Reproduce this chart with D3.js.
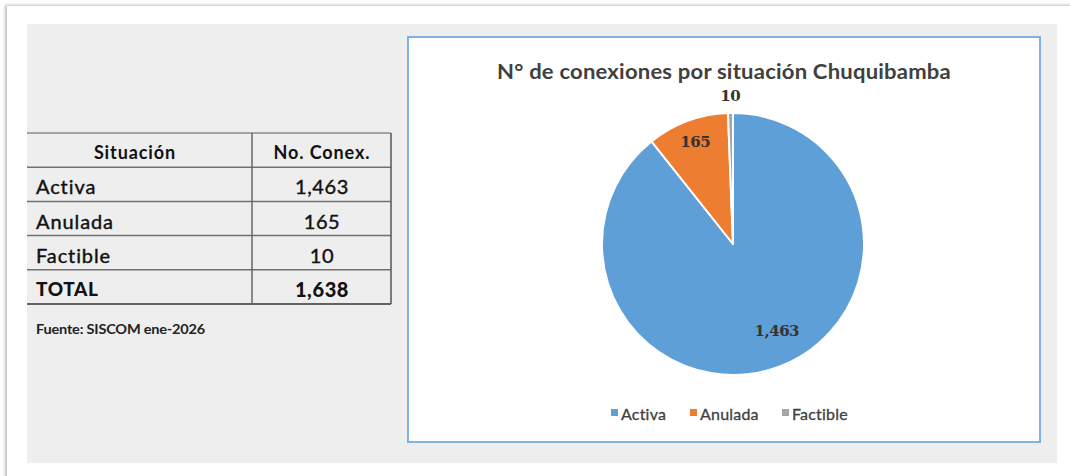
<!DOCTYPE html>
<html><head><meta charset="utf-8">
<script src="https://d3js.org/d3.v7.min.js"></script>
<style>html,body{margin:0;padding:0;background:#fff;}svg{display:block;}</style>
</head><body>
<svg id="c" width="1070" height="476"></svg>
<script>
const categories = ["Activa", "Anulada", "Factible"];
const values = [1463, 165, 10];
const valueLabels = ["1,463", "165", "10"];
const tableHeaders = ["Situación", "No. Conex."];
const totalLabel = "TOTAL";
const totalValue = "1,638";
const title = "N° de conexiones por situación Chuquibamba";
const source = "Fuente: SISCOM ene-2026";
const colors = ["#5e9fd8", "#ed7d31", "#a5a5a5"];

const FONT = "Lato, 'Open Sans', sans-serif";
const svg = d3.select("#c");
const defs = svg.append("defs");
const f = defs.append("filter").attr("id","sh").attr("x","-5%").attr("y","-5%").attr("width","110%").attr("height","110%");
f.append("feDropShadow").attr("dx",-2).attr("dy",-1).attr("stdDeviation",1.5).attr("flood-color","#000").attr("flood-opacity",0.25);

// outer frame
svg.append("rect").attr("x",7).attr("y",6).attr("width",1100).attr("height",520).attr("fill","#fff").attr("filter","url(#sh)");
// gray panel
svg.append("rect").attr("x",27).attr("y",24).attr("width",1030).attr("height",439).attr("fill","#eeeeee");

function txt(g, x, yy, s, size, opts={}) {
  const t = g.append("text").attr("x",x).attr("y",yy).attr("dominant-baseline","central")
    .attr("font-family",opts.family||FONT).attr("font-size",size).attr("fill",opts.fill||"#111")
    .attr("text-anchor",opts.anchor||"start").text(s);
  if (opts.weight) t.attr("font-weight",opts.weight);
  if (opts.ls!=null) t.attr("letter-spacing",opts.ls);
  if (opts.stroke) t.attr("stroke",opts.fill||"#111").attr("stroke-width",opts.stroke);
  return t;
}

// ---- table ----
const tx0 = 27, tx1 = 391, tcol = 252;
const rowTop = 133, rowH = 34.2;
const rows = categories.map((c,i)=>({label:c, value:valueLabels[i]}));
const tg = svg.append("g");
const y = d3.scaleLinear().domain([0,5]).range([rowTop, rowTop+5*rowH]);
d3.range(6).forEach(i=>{
  tg.append("line").attr("x1",tx0).attr("x2",tx1).attr("y1",y(i)).attr("y2",y(i))
    .attr("stroke", i===5 ? "#333" : (i===0 ? "#8a8a8a" : "#707070")).attr("stroke-width",1.5);
});
tg.append("line").attr("x1",tcol).attr("x2",tcol).attr("y1",y(0)).attr("y2",y(5)).attr("stroke","#666").attr("stroke-width",1.5);
tg.append("line").attr("x1",tx1).attr("x2",tx1).attr("y1",y(0)).attr("y2",y(5)).attr("stroke","#555").attr("stroke-width",1.5);
const colC1 = 135, colC2 = 322;
txt(tg, colC1, y(0.5)+2, tableHeaders[0], 18, {anchor:"middle", weight:"bold", ls:0.9});
txt(tg, colC2, y(0.5)+2, tableHeaders[1], 18, {anchor:"middle", weight:"bold", ls:0.9});
rows.forEach((r,i)=>{
  txt(tg, 36, y(i+1.5)+2, r.label, 20, {ls:0.9, stroke:0.4});
  txt(tg, colC2, y(i+1.5)+2, r.value, 20, {anchor:"middle", ls:0.6, stroke:0.4});
});
txt(tg, 36, y(4.5)+2, totalLabel, 19, {weight:"900", ls:0.6});
txt(tg, colC2, y(4.5)+2, totalValue, 20, {anchor:"middle", weight:"900", ls:0.6});
txt(tg, 36, 328, source, 14, {weight:"bold", ls:-0.2, fill:"#222"})
  .attr("textLength",169).attr("lengthAdjust","spacingAndGlyphs");

// ---- chart box ----
svg.append("rect").attr("x",408).attr("y",37).attr("width",632).attr("height",405)
  .attr("fill","#fff").attr("stroke","#7fb1e3").attr("stroke-width",2);
txt(svg, 724, 70, title, 21, {anchor:"middle", weight:"bold", fill:"#404040", ls:0.2})
  .attr("textLength",454).attr("lengthAdjust","spacingAndGlyphs");

const cx = 733, cy = 244, R = 131;
const pie = d3.pie().sort(null).value(d=>d.v);
const arcs = pie(categories.map((c,i)=>({c, v:values[i], lab:valueLabels[i], i})));
const arc = d3.arc().innerRadius(0).outerRadius(R);
const pg = svg.append("g").attr("transform",`translate(${cx},${cy})`);
pg.selectAll("path").data(arcs).join("path").attr("d",arc)
  .attr("fill",d=>colors[d.data.i]).attr("stroke","#fff").attr("stroke-width",2).attr("stroke-linejoin","round");
const labR = [0.73*R, 0.83*R, R+17];
const ang = d => (d.startAngle+d.endAngle)/2 - (d.data.i===0?0.14:0);
pg.selectAll("text").data(arcs).join("text")
  .attr("x",d=>Math.sin(ang(d))*labR[d.data.i])
  .attr("y",d=>-Math.cos(ang(d))*labR[d.data.i] + (d.data.i===0?2:0))
  .attr("text-anchor","middle").attr("dominant-baseline","central")
  .attr("font-family","'DejaVu Serif', 'Liberation Serif', serif").attr("font-weight","bold").attr("font-size",15).attr("letter-spacing",-0.5)
  .attr("fill","#333").text(d=>d.data.lab);

// legend
const legX = [611, 690, 782];
const lg = svg.append("g");
categories.forEach((c,i)=>{
  lg.append("rect").attr("x",legX[i]).attr("y",409).attr("width",7).attr("height",7).attr("fill",colors[i]);
  txt(lg, legX[i]+10, 413, c, 16, {fill:"#404040", ls:0.2, stroke:0.3});
});
</script>
</body></html>
